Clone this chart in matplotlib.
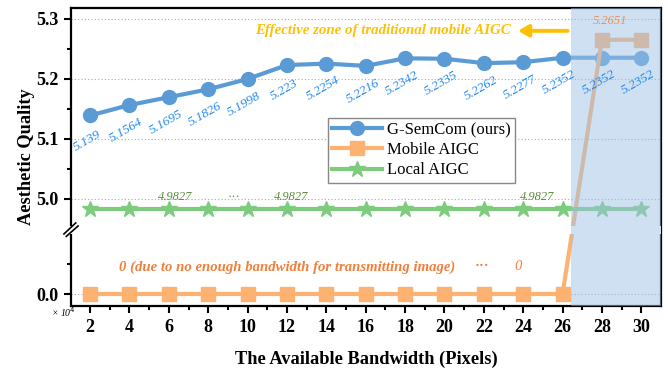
import numpy as np
import matplotlib
matplotlib.use("Agg")
import matplotlib.pyplot as plt
from matplotlib.transforms import blended_transform_factory

plt.rcParams['font.family'] = ['Liberation Serif', 'DejaVu Serif']

bandwidth = [2, 4, 6, 8, 10, 12, 14, 16, 18, 20, 22, 24, 26, 28, 30]
gsemcom = [5.139, 5.1564, 5.1695, 5.1826, 5.1998, 5.223, 5.2254, 5.2216,
           5.2342, 5.2335, 5.2262, 5.2277, 5.2352, 5.2352, 5.2352]
mobile = [0, 0, 0, 0, 0, 0, 0, 0, 0, 0, 0, 0, 0, 5.2651, 5.2651]
local = [4.9827] * 15
gsemcom_labels = ["5.139", "5.1564", "5.1695", "5.1826", "5.1998", "5.223", "5.2254",
                  "5.2216", "5.2342", "5.2335", "5.2262", "5.2277", "5.2352", "5.2352", "5.2352"]

# broken y axis via a piecewise-linear function scale
lo_top, hi_bot, gap = 0.1, 4.955, 0.0133

def fwd(y):
    y = np.asarray(y, dtype=float)
    mid = lo_top + (y - lo_top) / (hi_bot - lo_top) * gap
    return np.where(y <= lo_top, y, np.where(y >= hi_bot, y - hi_bot + lo_top + gap, mid))

def inv(t):
    t = np.asarray(t, dtype=float)
    mid = lo_top + (t - lo_top) / gap * (hi_bot - lo_top)
    return np.where(t <= lo_top, t, np.where(t >= lo_top + gap, t + hi_bot - lo_top - gap, mid))

fig = plt.figure(figsize=(6.68, 3.69), dpi=100)
ax = fig.add_axes([0.1063, 0.1707, 0.8832, 0.8076])
ax.set_yscale('function', functions=(fwd, inv))
ax.set_xlim(1.03, 31.0)
ax.set_ylim(-0.02, 5.318)

blue = '#5b9bd5'
orange = '#fdb272'
green = '#7dcb7d'

ax.plot(bandwidth, gsemcom, color=blue, lw=3, marker='o', ms=10, zorder=3, label='G-SemCom (ours)')
ax.plot(bandwidth, mobile, color=orange, lw=3, marker='s', ms=10, zorder=3, label='Mobile AIGC')
ax.plot(bandwidth, local, color=green, lw=3, marker='*', ms=12, zorder=3, label='Local AIGC')

# white gap across the break
ax.axhspan(lo_top, hi_bot, color='white', lw=0, zorder=3.5)
# shaded zone
ax.axvspan(26.42, 31.0, color='#9ec3e6', alpha=0.5, lw=0, zorder=4)

# grid lines
for g in [0.0, 5.0, 5.1, 5.2, 5.3]:
    ax.axhline(g, color='#aaaaaa', ls=(0, (1, 2)), lw=0.8, zorder=1)

# value labels
for x, y, s in zip(bandwidth, gsemcom, gsemcom_labels):
    ax.annotate(s, (x, y), xytext=(-3, -25), textcoords='offset pixels', rotation=30,
                ha='center', va='center', fontsize=9.5, style='italic', color='#1f87f0', zorder=6)
for x in [6.3, 12.2, 24.7]:
    ax.text(x, 4.9935, '4.9827', ha='center', va='bottom', fontsize=9, style='italic', color='#5d8a3c')
ax.text(9.3, 4.9935, '···', ha='center', va='bottom', fontsize=9, color='#5d8a3c')
ax.text(12.0, 0.045, '0 (due to no enough bandwidth for transmitting image)', ha='center',
        va='center', fontsize=10.6, style='italic', fontweight='bold', color='#f07f3c')
ax.text(21.9, 0.045, '···', ha='center', va='center', fontsize=10.6, fontweight='bold', color='#f07f3c')
ax.text(23.75, 0.045, '0', ha='center', va='center', fontsize=10.6, style='italic', color='#f07f3c')
ax.text(28.4, 5.296, '5.2651', ha='center', va='center', fontsize=9, style='italic', color='#e8925e', zorder=6)

ax.text(16.9, 5.28, 'Effective zone of traditional mobile AIGC', ha='center', va='center',
        fontsize=10.7, style='italic', fontweight='bold', color='#ffc000')
ax.annotate('', xy=(23.6, 5.28), xytext=(26.4, 5.28),
            arrowprops=dict(arrowstyle='-|>,head_length=0.6,head_width=0.35', color='#ffc000', lw=2.8))

# axes styling
for sp in ax.spines.values():
    sp.set_linewidth(1.6)
ax.set_xticks(bandwidth)
ax.set_xticks(range(3, 31, 2), minor=True)
ax.set_yticks([0.0, 5.0, 5.1, 5.2, 5.3])
ax.set_yticks([0.05, 5.05, 5.15, 5.25], minor=True)
ax.set_yticklabels(['0.0', '5.0', '5.1', '5.2', '5.3'])
ax.tick_params(which='major', direction='out', length=5, width=1.5, labelsize=13, pad=4)
ax.tick_params(which='minor', direction='out', length=3, width=1.5)
for lab in ax.get_xticklabels() + ax.get_yticklabels():
    lab.set_fontweight('bold')

ax.set_xlabel('The Available Bandwidth (Pixels)', fontsize=13.2, fontweight='bold', labelpad=11)
ax.set_ylabel('Aesthetic Quality', fontsize=13.2, fontweight='bold', labelpad=1)
fig.text(0.077, 0.154, '× 10$^4$', fontsize=7, style='italic', ha='left', va='center')

# break marks on the left spine
tr = blended_transform_factory(ax.transAxes, ax.transData)
ax.fill_between([-0.012, 0.012], lo_top + 0.003, hi_bot - 0.005, color='white', transform=tr,
                clip_on=False, zorder=10, lw=0)
ax.plot([-0.012, 0.008], [lo_top + 0.004, 4.96], color='black', lw=1.2, transform=tr, clip_on=False, zorder=11)
ax.plot([-0.008, 0.012], [lo_top - 0.004, 4.952], color='black', lw=1.2, transform=tr, clip_on=False, zorder=11)

leg = ax.legend(loc='upper left', bbox_to_anchor=(0.435, 0.631), fontsize=12, frameon=True,
                fancybox=False, edgecolor='#888888', framealpha=1, handlelength=3.0,
                borderpad=0.25, labelspacing=0.25, handletextpad=0.3, borderaxespad=0)
leg.get_frame().set_linewidth(1.0)
leg.set_zorder(5)

fig.savefig('out.png', dpi=100)
